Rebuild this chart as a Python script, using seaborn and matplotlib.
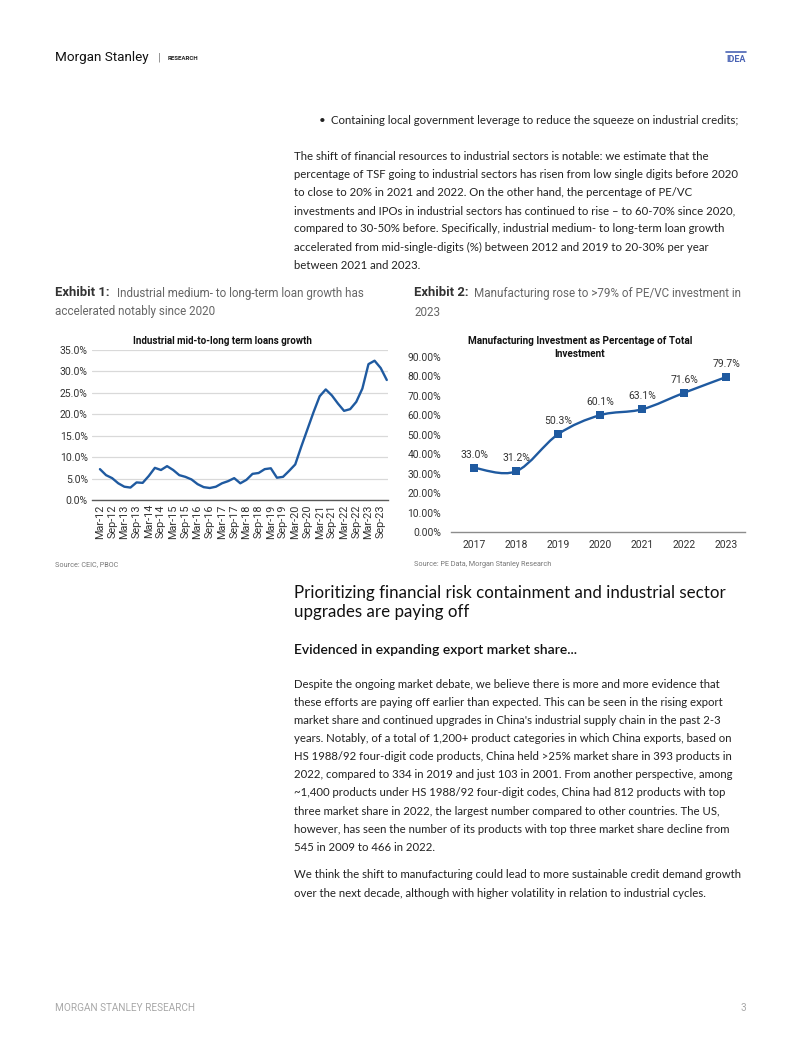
import numpy as np
import pandas as pd
import matplotlib
matplotlib.use("Agg")
import matplotlib.pyplot as plt
import seaborn as sns
from matplotlib.path import Path
from matplotlib.patches import PathPatch

# ---------------- data ----------------
quarters = ["Mar-12", "Jun-12", "Sep-12", "Dec-12", "Mar-13", "Jun-13", "Sep-13", "Dec-13",
            "Mar-14", "Jun-14", "Sep-14", "Dec-14", "Mar-15", "Jun-15", "Sep-15", "Dec-15",
            "Mar-16", "Jun-16", "Sep-16", "Dec-16", "Mar-17", "Jun-17", "Sep-17", "Dec-17",
            "Mar-18", "Jun-18", "Sep-18", "Dec-18", "Mar-19", "Jun-19", "Sep-19", "Dec-19",
            "Mar-20", "Jun-20", "Sep-20", "Dec-20", "Mar-21", "Jun-21", "Sep-21", "Dec-21",
            "Mar-22", "Jun-22", "Sep-22", "Dec-22", "Mar-23", "Jun-23", "Sep-23", "Dec-23"]
loan_growth = [7.2, 5.8, 5.1, 3.9, 3.1, 2.9, 4.1, 4.0,
               5.6, 7.5, 7.0, 7.9, 7.0, 5.8, 5.4, 4.8,
               3.7, 3.0, 2.8, 3.1, 3.9, 4.4, 5.1, 3.9,
               4.7, 6.1, 6.3, 7.2, 7.4, 5.2, 5.4, 6.8,
               8.3, 12.5, 16.5, 20.5, 24.2, 25.8, 24.4, 22.5,
               20.8, 21.2, 22.9, 26.0, 31.7, 32.5, 30.8, 28.0]
loan_ticks = ["Mar-12", "Sep-12", "Mar-13", "Sep-13", "Mar-14", "Sep-14", "Mar-15", "Sep-15",
              "Mar-16", "Sep-16", "Mar-17", "Sep-17", "Mar-18", "Sep-18", "Mar-19", "Sep-19",
              "Mar-20", "Sep-20", "Mar-21", "Sep-21", "Mar-22", "Sep-22", "Mar-23", "Sep-23"]
loan_yticks = [0, 5, 10, 15, 20, 25, 30, 35]

years = ["2017", "2018", "2019", "2020", "2021", "2022", "2023"]
mfg_share = [33.0, 31.2, 50.3, 60.1, 63.1, 71.6, 79.7]
mfg_yticks = [0, 10, 20, 30, 40, 50, 60, 70, 80, 90]

# ---------------- style ----------------
sns.set_theme(style="white")
plt.rcParams['font.family'] = ['Lato', 'DejaVu Sans']
BODY = ['Lato', 'DejaVu Sans']
NARROW = ['Liberation Sans Narrow', 'Roboto', 'DejaVu Sans']
ROBOTO = ['Roboto', 'DejaVu Sans']
BLUE = "#1f5aa0"
TXT = "#222222"

W, H = 802, 1037
fig = plt.figure(figsize=(W / 100, H / 100), dpi=100)
fig.patch.set_facecolor("white")


def T(x, y, s, **kw):
    kw.setdefault("va", "center")
    kw.setdefault("ha", "left")
    return fig.text(x / W, 1 - y / H, s, **kw)


# ---------------- header ----------------
T(55, 57.5, "Morgan Stanley", fontsize=9.7, family=NARROW, color="#111111")
T(158, 57.5, "|", fontsize=8, family=ROBOTO, color="#777777")
T(168, 58, "RESEARCH", fontsize=4.4, family=ROBOTO, weight="bold", color="#222222")
T(726, 59, "IDEA", fontsize=6.5, family=NARROW, weight="bold", color="#4a63b4")
fig.add_artist(plt.Line2D([726 / W, 746 / W], [1 - 52 / H, 1 - 52 / H], color="#4a63b4", lw=1.2))

# ---------------- body text top ----------------
bfs = 8.2
T(319, 120, "•", fontsize=bfs, family=BODY, color=TXT)
T(331, 120, "Containing local government leverage to reduce the squeeze on industrial credits;",
  fontsize=bfs, family=BODY, color=TXT)
para1 = ["The shift of financial resources to industrial sectors is notable: we estimate that the",
         "percentage of TSF going to industrial sectors has risen from low single digits before 2020",
         "to close to 20% in 2021 and 2022. On the other hand, the percentage of PE/VC",
         "investments and IPOs in industrial sectors has continued to rise – to 60-70% since 2020,",
         "compared to 30-50% before. Specifically, industrial medium- to long-term loan growth",
         "accelerated from mid-single-digits (%) between 2012 and 2019 to 20-30% per year",
         "between 2021 and 2023."]
for i, line in enumerate(para1):
    T(294, 156 + i * 18.2, line, fontsize=bfs, family=BODY, color=TXT)

# ---------------- exhibit captions ----------------
T(55, 293, "Exhibit 1:", fontsize=9.4, family=NARROW, weight="bold", color="#333333")
T(117, 293, "Industrial medium- to long-term loan growth has", fontsize=8.35, family=NARROW, color="#666666")
T(55, 312, "accelerated notably since 2020", fontsize=8.35, family=NARROW, color="#666666")
T(414, 293, "Exhibit 2:", fontsize=9.4, family=NARROW, weight="bold", color="#333333")
T(474, 293, "Manufacturing rose to >79% of PE/VC investment in", fontsize=8.35, family=NARROW, color="#666666")
T(414, 312, "2023", fontsize=8.35, family=NARROW, color="#666666")

# ---------------- chart 1 ----------------
ax1 = fig.add_axes([92 / W, 1 - 500 / H, (388 - 92) / W, 150 / H])
df1 = pd.DataFrame({"pos": np.arange(len(quarters)), "growth": loan_growth, "q": quarters})
sns.lineplot(data=df1, x="pos", y="growth", ax=ax1, color=BLUE, lw=1.7)
ax1.set_xlim(-1.3, 47.2)
ax1.set_ylim(0, 35)
ax1.set_yticks(loan_yticks)
ax1.set_yticklabels([f"{v:.1f}%" for v in loan_yticks], family=NARROW, fontsize=7.5, color="#333333")
ax1.set_xticks([quarters.index(t) for t in loan_ticks])
ax1.set_xticklabels(loan_ticks, rotation=90, family=NARROW, fontsize=7.8, color="#333333")
ax1.tick_params(axis="both", length=0)
ax1.tick_params(axis="y", pad=3)
ax1.tick_params(axis="x", pad=3)
ax1.grid(axis="y", color="#d9d9d9", lw=0.9)
ax1.set_axisbelow(True)
for s in ["left", "right", "top"]:
    ax1.spines[s].set_visible(False)
ax1.spines["bottom"].set_color("#595959")
ax1.spines["bottom"].set_linewidth(1.0)
ax1.set_xlabel("")
ax1.set_ylabel("")
T(222, 341, "Industrial mid-to-long term loans growth", ha="center", fontsize=7.0,
  family=NARROW, weight="bold", color="#111111")

# ---------------- chart 2 ----------------
ax2 = fig.add_axes([451 / W, 1 - 532 / H, 294 / W, 175 / H])
xs = np.arange(len(years))
ys = np.array(mfg_share)
# smooth (Catmull-Rom style) Bezier path through the data points
verts = [(xs[0], ys[0])]
codes = [Path.MOVETO]
n = len(xs)
for i in range(n - 1):
    p0 = np.array([xs[max(i - 1, 0)], ys[max(i - 1, 0)]])
    p1 = np.array([xs[i], ys[i]])
    p2 = np.array([xs[i + 1], ys[i + 1]])
    p3 = np.array([xs[min(i + 2, n - 1)], ys[min(i + 2, n - 1)]])
    c1 = p1 + (p2 - p0) / 6
    c2 = p2 - (p3 - p1) / 6
    verts += [tuple(c1), tuple(c2), tuple(p2)]
    codes += [Path.CURVE4] * 3
ax2.add_patch(PathPatch(Path(verts, codes), fill=False, edgecolor=BLUE, lw=1.7, zorder=2))
df2 = pd.DataFrame({"pos": xs, "share": ys, "year": years})
sns.scatterplot(data=df2, x="pos", y="share", ax=ax2, marker="s", s=36, color=BLUE,
                edgecolor=BLUE, linewidth=0, zorder=3)
for x, y in zip(xs, ys):
    ax2.annotate(f"{y:.1f}%", (x, y), xytext=(0, 13), textcoords="offset pixels",
                 ha="center", va="center", fontsize=7.5, family=NARROW, color="#333333")
ax2.set_xlim(-0.55, 6.45)
ax2.set_ylim(0, 90)
ax2.set_yticks(mfg_yticks)
ax2.set_yticklabels([f"{v:.2f}%" for v in mfg_yticks], family=NARROW, fontsize=7.4, color="#333333")
ax2.set_xticks(xs)
ax2.set_xticklabels(years, family=NARROW, fontsize=7.5, color="#333333")
ax2.tick_params(axis="both", length=0)
ax2.tick_params(axis="y", pad=7)
ax2.tick_params(axis="x", pad=6)
ax2.grid(False)
for s in ["left", "right", "top"]:
    ax2.spines[s].set_visible(False)
ax2.spines["bottom"].set_color("#8c8c8c")
ax2.spines["bottom"].set_linewidth(1.0)
ax2.set_xlabel("")
ax2.set_ylabel("")
T(580, 341, "Manufacturing Investment as Percentage of Total", ha="center", fontsize=7.2,
  family=NARROW, weight="bold", color="#111111")
T(580, 354, "Investment", ha="center", fontsize=7.2, family=NARROW, weight="bold", color="#111111")

# ---------------- sources ----------------
T(55, 565, "Source: CEIC, PBOC", fontsize=5.2, family=ROBOTO, color="#777777")
T(414, 565, "Source: PE Data, Morgan Stanley Research", fontsize=5.2, family=ROBOTO, color="#777777")

# ---------------- section heading ----------------
T(294, 593, "Prioritizing financial risk containment and industrial sector", fontsize=12.2,
  family=BODY, color="#111111")
T(294, 612, "upgrades are paying off", fontsize=12.2, family=BODY, color="#111111")
T(294, 650, "Evidenced in expanding export market share...", fontsize=10.0,
  family=BODY, weight="semibold", color="#111111")

para2 = ["Despite the ongoing market debate, we believe there is more and more evidence that",
         "these efforts are paying off earlier than expected. This can be seen in the rising export",
         "market share and continued upgrades in China's industrial supply chain in the past 2-3",
         "years. Notably, of a total of 1,200+ product categories in which China exports, based on",
         "HS 1988/92 four-digit code products, China held >25% market share in 393 products in",
         "2022, compared to 334 in 2019 and just 103 in 2001. From another perspective, among",
         "~1,400 products under HS 1988/92 four-digit codes, China had 812 products with top",
         "three market share in 2022, the largest number compared to other countries. The US,",
         "however, has seen the number of its products with top three market share decline from",
         "545 in 2009 to 466 in 2022."]
for i, line in enumerate(para2):
    T(294, 684 + i * 18.15, line, fontsize=bfs, family=BODY, color=TXT)
para3 = ["We think the shift to manufacturing could lead to more sustainable credit demand growth",
         "over the next decade, although with higher volatility in relation to industrial cycles."]
for i, line in enumerate(para3):
    T(294, 875 + i * 18.2, line, fontsize=bfs, family=BODY, color=TXT)

# ---------------- footer ----------------
T(55, 1008, "MORGAN STANLEY RESEARCH", fontsize=7.2, family=ROBOTO, color="#a8a8a8")
T(746, 1008, "3", ha="right", fontsize=7.2, family=ROBOTO, color="#a8a8a8")

fig.savefig("out.png", dpi=100, facecolor="white")
